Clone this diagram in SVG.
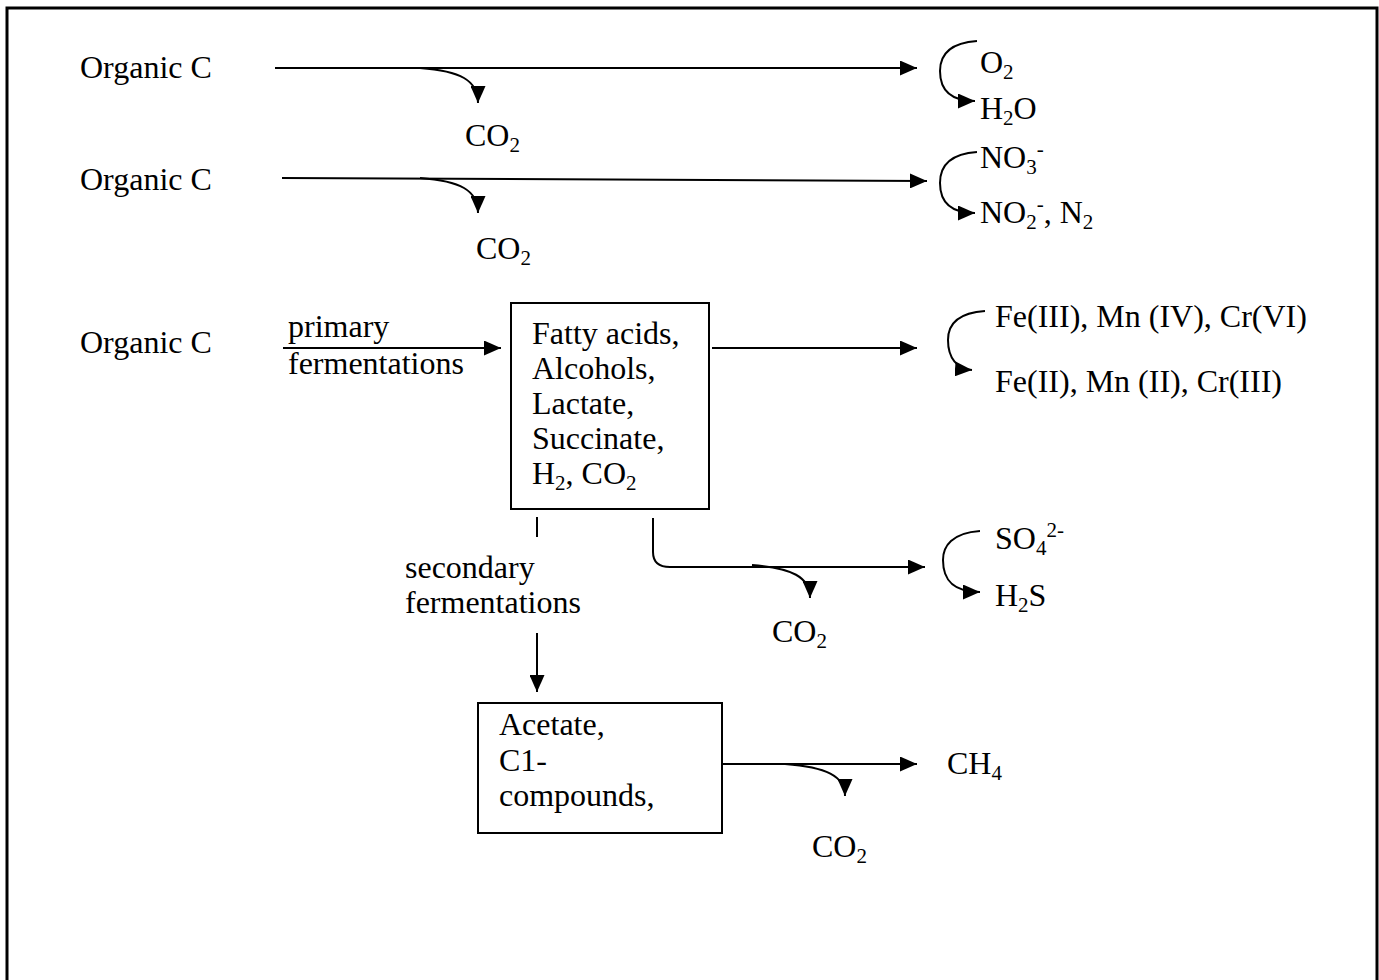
<svg xmlns="http://www.w3.org/2000/svg" width="1379" height="980" viewBox="0 0 1379 980">
<style>
text{font-family:"Liberation Serif","Times New Roman",serif;font-size:32px;fill:#000}
.sub{font-size:21px}
.ln{fill:none;stroke:#000;stroke-width:2}
.box{fill:#fff;stroke:#000;stroke-width:2}
</style>
<defs>
<marker id="ah" markerUnits="userSpaceOnUse" markerWidth="18" markerHeight="15" refX="17" refY="7.5" orient="auto">
<path d="M0,0 L17,7.5 L0,15 z" fill="#000"/>
</marker>
</defs>
<rect x="7" y="8" width="1370" height="990" fill="#fff" stroke="#000" stroke-width="3"/>

<g id="connectors">
<path class="ln" d="M275,68 L917,68" marker-end="url(#ah)"/>
<path class="ln" d="M420,68 C460,71 478,80 478,103" marker-end="url(#ah)"/>
<path class="ln" d="M977,41 C948,43 940,56 940,71 C940,90 950,101 975,101" marker-end="url(#ah)"/>

<path class="ln" d="M282,178 L927,181" marker-end="url(#ah)"/>
<path class="ln" d="M420,178 C460,181 478,190 478,213" marker-end="url(#ah)"/>
<path class="ln" d="M977,152 C948,154 940,168 940,183 C940,202 950,213 975,213" marker-end="url(#ah)"/>

<path class="ln" d="M283,348 L501,348" marker-end="url(#ah)"/>
<path class="ln" d="M712,348 L917,348" marker-end="url(#ah)"/>
<path class="ln" d="M985,311 C956,313 948,326 948,340 C948,358 957,369 972,370" marker-end="url(#ah)"/>

<path class="ln" d="M537,517 L537,537"/>
<path class="ln" d="M537,633 L537,692" marker-end="url(#ah)"/>
<path class="ln" d="M653,518 L653,552 C653,562 658,567 670,567 L925,567" marker-end="url(#ah)"/>
<path class="ln" d="M752,565 C792,568 810,577 810,598" marker-end="url(#ah)"/>
<path class="ln" d="M980,531 C952,533 943,546 943,560 C943,580 953,592 980,592" marker-end="url(#ah)"/>

<path class="ln" d="M722,764 L917,764" marker-end="url(#ah)"/>
<path class="ln" d="M785,764 C826,767 845,776 845,796" marker-end="url(#ah)"/>
</g>

<g id="organic1"><text x="80" y="78">Organic C</text></g>
<g id="co2a"><text x="465" y="146">CO<tspan class="sub" dy="6">2</tspan></text></g>
<g id="o2"><text x="980" y="73">O<tspan class="sub" dy="6">2</tspan></text></g>
<g id="h2o"><text x="980" y="119">H<tspan class="sub" dy="6">2</tspan><tspan dy="-6">O</tspan></text></g>

<g id="organic2"><text x="80" y="190">Organic C</text></g>
<g id="co2b"><text x="476" y="259">CO<tspan class="sub" dy="6">2</tspan></text></g>
<g id="no3"><text x="980" y="168">NO<tspan class="sub" dy="6">3</tspan><tspan class="sub" dy="-18">-</tspan></text></g>
<g id="no2"><text x="980" y="223">NO<tspan class="sub" dy="6">2</tspan><tspan class="sub" dy="-18">-</tspan><tspan dy="12">, N</tspan><tspan class="sub" dy="6">2</tspan></text></g>

<g id="organic3"><text x="80" y="353">Organic C</text></g>
<g id="primary"><text x="288" y="337">primary</text><text x="288" y="374">fermentations</text></g>
<g id="box1">
<rect class="box" x="511" y="303" width="198" height="206"/>
<text x="532" y="344">Fatty acids,</text>
<text x="532" y="379">Alcohols,</text>
<text x="532" y="414">Lactate,</text>
<text x="532" y="449">Succinate,</text>
<text x="532" y="484">H<tspan class="sub" dy="6">2</tspan><tspan dy="-6">, CO</tspan><tspan class="sub" dy="6">2</tspan></text>
</g>
<g id="fe3"><text x="995" y="327">Fe(III), Mn (IV), Cr(VI)</text></g>
<g id="fe2"><text x="995" y="392">Fe(II), Mn (II), Cr(III)</text></g>

<g id="secondary"><text x="405" y="578">secondary</text><text x="405" y="613">fermentations</text></g>
<g id="co2c"><text x="772" y="642">CO<tspan class="sub" dy="6">2</tspan></text></g>
<g id="so4"><text x="995" y="549">SO<tspan class="sub" dy="6">4</tspan><tspan class="sub" dy="-18">2-</tspan></text></g>
<g id="h2s"><text x="995" y="606">H<tspan class="sub" dy="6">2</tspan><tspan dy="-6">S</tspan></text></g>

<g id="box2">
<rect class="box" x="478" y="703" width="244" height="130"/>
<text x="499" y="735">Acetate,</text>
<text x="499" y="771">C1-</text>
<text x="499" y="806">compounds,</text>
</g>
<g id="ch4"><text x="947" y="774">CH<tspan class="sub" dy="6">4</tspan></text></g>
<g id="co2d"><text x="812" y="857">CO<tspan class="sub" dy="6">2</tspan></text></g>
</svg>
